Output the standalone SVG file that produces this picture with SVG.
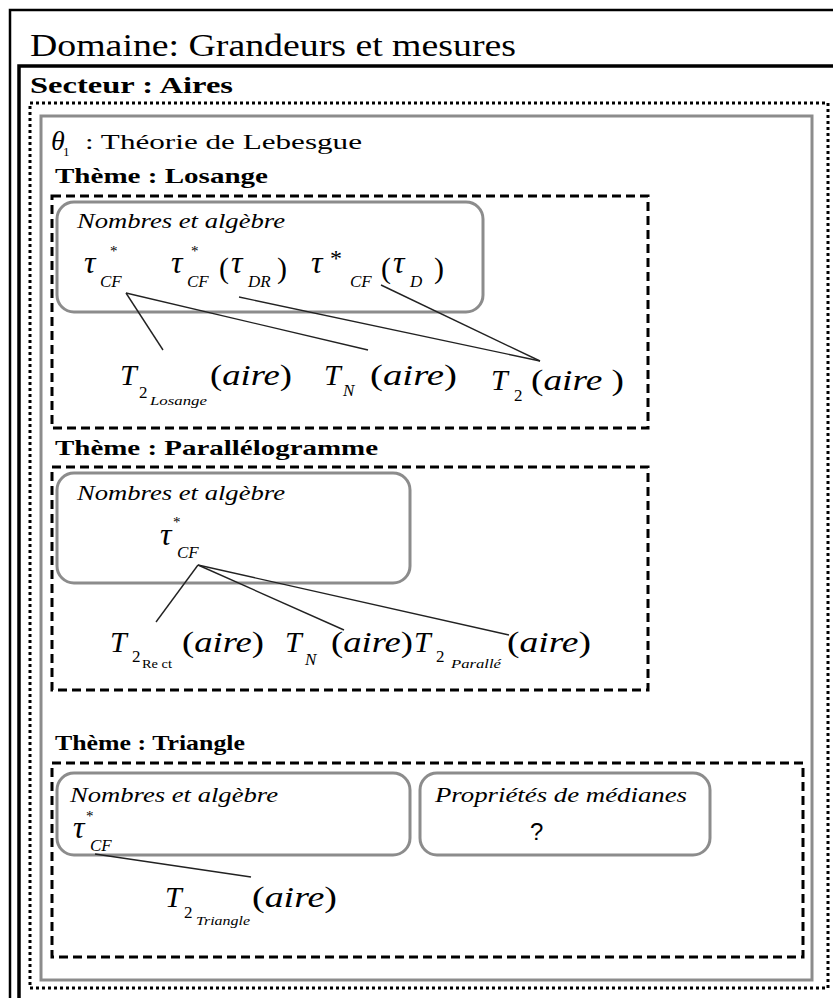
<svg xmlns="http://www.w3.org/2000/svg" width="833" height="998" viewBox="0 0 833 998">
<style>
.b{font-weight:bold}
.i{font-style:italic}
.gbox{fill:none;stroke:#8c8c8c;stroke-width:3}
.dash{fill:none;stroke:#000;stroke-width:3;stroke-dasharray:9 5}
.dot{fill:none;stroke:#000;stroke-width:3;stroke-dasharray:3 3}
#connectors line{stroke:#222;stroke-width:1.4}
</style>
<rect width="833" height="998" fill="#fff"/>
<g id="frames">
<path d="M10 998V10H833" fill="none" stroke="#000" stroke-width="2.5"/>
<path d="M19 998V66H833" fill="none" stroke="#000" stroke-width="3.5"/>
<rect class="dot" x="30" y="103" width="798" height="885"/>
<rect class="gbox" x="41" y="116" width="771" height="864"/>
</g>
<g font-family="Liberation Serif, serif" fill="#000">
<g id="titles">
<text x="30" y="56" font-size="31" textLength="486" lengthAdjust="spacingAndGlyphs">Domaine: Grandeurs et mesures</text>
<text class="b" x="30" y="93" font-size="23" textLength="203" lengthAdjust="spacingAndGlyphs">Secteur : Aires</text>
<text class="i" x="51" y="150" font-size="28">θ</text>
<text x="63" y="156" font-size="13">1</text>
<text x="85" y="149" font-size="21" textLength="277" lengthAdjust="spacingAndGlyphs">: Théorie de Lebesgue</text>
</g>
<g id="theme-losange">
<text class="b" x="55" y="183" font-size="22" textLength="213" lengthAdjust="spacingAndGlyphs">Thème : Losange</text>
<rect class="dash" x="52" y="196" width="596" height="232"/>
<g id="losange-nombres">
<rect class="gbox" x="57" y="202" width="426" height="110" rx="17"/>
<text class="i" x="77" y="228" font-size="22" textLength="208" lengthAdjust="spacingAndGlyphs">Nombres et algèbre</text>
<text class="i" x="84" y="273" font-size="32">τ</text>
<text x="110" y="256" font-size="15">*</text>
<text class="i" x="100" y="287" font-size="17">CF</text>
<text class="i" x="171" y="273" font-size="32">τ</text>
<text x="191" y="256" font-size="15">*</text>
<text class="i" x="187" y="287" font-size="17">CF</text>
<text x="219" y="278" font-size="30">(</text>
<text class="i" x="231" y="273" font-size="32">τ</text>
<text class="i" x="248" y="287" font-size="17">DR</text>
<text x="277" y="278" font-size="30">)</text>
<text class="i" x="311" y="273" font-size="32">τ</text>
<text x="330" y="266" font-size="24">*</text>
<text class="i" x="350" y="287" font-size="17">CF</text>
<text x="381" y="278" font-size="30">(</text>
<text class="i" x="393" y="273" font-size="32">τ</text>
<text class="i" x="410" y="287" font-size="17">D</text>
<text x="434" y="278" font-size="30">)</text>
</g>
<g id="losange-T2losange">
<text class="i" x="120" y="385" font-size="30">T</text>
<text x="139" y="398" font-size="17">2</text>
<text class="i" x="150" y="405" font-size="12" textLength="57" lengthAdjust="spacingAndGlyphs">Losange</text>
<text x="210" y="385" font-size="30" textLength="82" lengthAdjust="spacingAndGlyphs">(<tspan class="i">aire</tspan>)</text>
</g>
<g id="losange-TN">
<text class="i" x="324" y="385" font-size="30">T</text>
<text class="i" x="343" y="396" font-size="17">N</text>
<text x="370" y="385" font-size="30" textLength="87" lengthAdjust="spacingAndGlyphs">(<tspan class="i">aire</tspan>)</text>
</g>
<g id="losange-T2">
<text class="i" x="491" y="390" font-size="30">T</text>
<text x="514" y="401" font-size="17">2</text>
<text x="531" y="390" font-size="30" textLength="93" lengthAdjust="spacingAndGlyphs">(<tspan class="i">aire</tspan> )</text>
</g>
</g>
<g id="theme-parallelogramme">
<text class="b" x="55" y="455" font-size="22" textLength="323" lengthAdjust="spacingAndGlyphs">Thème : Parallélogramme</text>
<rect class="dash" x="52" y="467" width="596" height="223"/>
<g id="para-nombres">
<rect class="gbox" x="57" y="473" width="353" height="110" rx="17"/>
<text class="i" x="77" y="500" font-size="22" textLength="208" lengthAdjust="spacingAndGlyphs">Nombres et algèbre</text>
<text class="i" x="160" y="545" font-size="32">τ</text>
<text x="173" y="527" font-size="15">*</text>
<text class="i" x="177" y="558" font-size="17">CF</text>
</g>
<g id="para-T2rect">
<text class="i" x="110" y="652" font-size="30">T</text>
<text x="132" y="662" font-size="17">2</text>
<text x="142" y="668" font-size="12" textLength="30" lengthAdjust="spacingAndGlyphs">Re ct</text>
<text x="182" y="652" font-size="30" textLength="82" lengthAdjust="spacingAndGlyphs">(<tspan class="i">aire</tspan>)</text>
</g>
<g id="para-TN">
<text class="i" x="285" y="652" font-size="30">T</text>
<text class="i" x="305" y="665" font-size="17">N</text>
<text x="331" y="652" font-size="30" textLength="82" lengthAdjust="spacingAndGlyphs">(<tspan class="i">aire</tspan>)</text>
</g>
<g id="para-T2para">
<text class="i" x="414" y="652" font-size="30">T</text>
<text x="436" y="662" font-size="17">2</text>
<text class="i" x="451" y="668" font-size="12" textLength="50" lengthAdjust="spacingAndGlyphs">Parallé</text>
<text x="507" y="652" font-size="30" textLength="84" lengthAdjust="spacingAndGlyphs">(<tspan class="i">aire</tspan>)</text>
</g>
</g>
<g id="theme-triangle">
<text class="b" x="55" y="750" font-size="22" textLength="190" lengthAdjust="spacingAndGlyphs">Thème : Triangle</text>
<rect class="dash" x="52" y="763" width="751" height="194"/>
<g id="tri-nombres">
<rect class="gbox" x="57" y="773" width="353" height="82" rx="17"/>
<text class="i" x="70" y="802" font-size="22" textLength="208" lengthAdjust="spacingAndGlyphs">Nombres et algèbre</text>
<text class="i" x="73" y="838" font-size="32">τ</text>
<text x="86" y="821" font-size="15">*</text>
<text class="i" x="90" y="851" font-size="17">CF</text>
</g>
<g id="tri-proprietes">
<rect class="gbox" x="420" y="773" width="290" height="82" rx="17"/>
<text class="i" x="435" y="802" font-size="22" textLength="252" lengthAdjust="spacingAndGlyphs">Propriétés de médianes</text>
<text x="530" y="840" font-size="24" font-family="Liberation Sans, sans-serif">?</text>
</g>
<g id="tri-T2triangle">
<text class="i" x="165" y="907" font-size="30">T</text>
<text x="184" y="918" font-size="17">2</text>
<text class="i" x="196" y="925" font-size="12" textLength="54" lengthAdjust="spacingAndGlyphs">Triangle</text>
<text x="252" y="907" font-size="30" textLength="85" lengthAdjust="spacingAndGlyphs">(<tspan class="i">aire</tspan>)</text>
</g>
</g>
</g>
<g id="connectors">
<line x1="126" y1="293" x2="163" y2="350"/>
<line x1="126" y1="293" x2="368" y2="350"/>
<line x1="239" y1="297" x2="540" y2="361"/>
<line x1="381" y1="285" x2="540" y2="361"/>
<line x1="198" y1="565" x2="156" y2="622"/>
<line x1="198" y1="565" x2="344" y2="630"/>
<line x1="198" y1="565" x2="509" y2="635"/>
<line x1="95" y1="854" x2="251" y2="877"/>
</g>
</svg>
